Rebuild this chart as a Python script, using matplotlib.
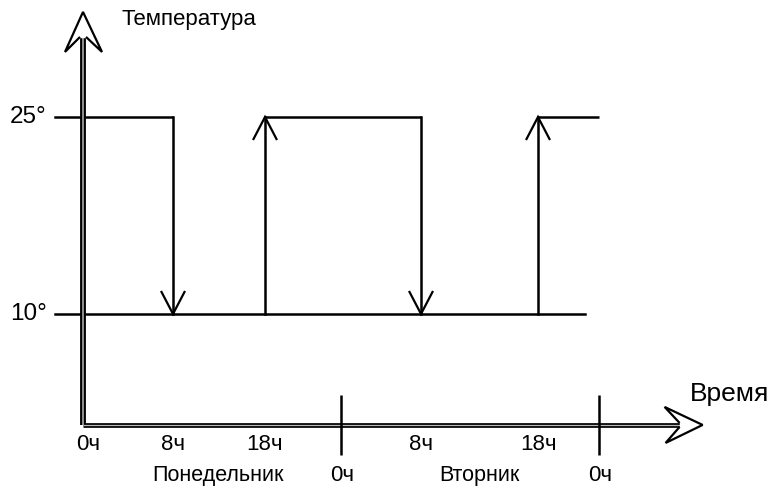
import matplotlib

matplotlib.use("Agg")
import matplotlib.pyplot as plt  # noqa: E402
import matplotlib.transforms as mtransforms  # noqa: E402
import numpy as np  # noqa: E402

# --- данные схемы: часы от начала понедельника, температура в градусах ---
T_HIGH, T_LOW = 25, 10
LEVEL_LABELS = ["25°", "10°"]
HIGH_PERIODS = [(0, 8), (18, 32), (42, 48)]   # когда держим 25°
DROPS = [8, 32]                               # переход 25° -> 10°
RISES = [18, 42]                              # переход 10° -> 25°
LOW_LINE_END = 46.6
HOUR_TICKS = [0, 8, 18, 32, 42]
HOUR_LABELS = ["0ч", "8ч", "18ч", "8ч", "18ч"]
MIDNIGHTS = [24, 48]
MIDNIGHT_LABELS = ["0ч", "0ч"]
DAY_NAMES = ["Понедельник", "Вторник"]
DAY_CENTERS = [12.9, 37.0]

# схема нарисована не в масштабе: опорные часы -> пиксели по горизонтали
SCHEME_HOURS = [-20, 0, 8, 18, 24, 32, 42, 48, 80]
SCHEME_PX = [-137, 83, 173, 265, 341, 421, 538, 599, 924]

INK = "#000000"
GAP = "#b8b8b8"
plt.rcParams["font.family"] = ["Liberation Sans", "DejaVu Sans"]


def fwd(h):
    return np.interp(h, SCHEME_HOURS, SCHEME_PX)


def inv(p):
    return np.interp(p, SCHEME_PX, SCHEME_HOURS)


fig = plt.figure(figsize=(7.71, 4.86), dpi=100)
ax = fig.add_axes([0, 0, 1, 1])
ax.set_axis_off()
ax.set_xscale("function", functions=(fwd, inv))
ax.set_xlim(inv(0), inv(771))
ax.set_ylim(-3.10, 33.91)   # ~13.13 px на градус

AXIS_T = 1.55      # где проходит ось времени
AXIS_TOP = 33.0    # острие оси температуры
AXIS_END = 58.2    # острие оси времени


def at(x, y):
    """Трансформация: пиксели (y вниз) относительно точки данных."""
    return mtransforms.Affine2D().scale(1, -1) + mtransforms.ScaledTranslation(
        x, y, ax.transData)


def shifted(dy):
    """Данные со сдвигом по вертикали в пикселях (вниз при dy > 0)."""
    return mtransforms.offset_copy(ax.transData, fig, y=-dy, units="dots")


def draw(t, pts, lw=1.6, z=6):
    ax.plot([p[0] for p in pts], [p[1] for p in pts], color=INK, lw=lw,
            transform=t, zorder=z, solid_joinstyle="miter",
            solid_capstyle="butt")


# оси — двойная линия (черная толстая + серый просвет)
ax.plot([0, 0], [AXIS_T, AXIS_TOP], color=INK, lw=4.2,
        solid_capstyle="butt", zorder=3)
ax.plot([0, AXIS_END], [AXIS_T, AXIS_T], color=INK, lw=3.4,
        solid_capstyle="butt", zorder=3)
ax.plot([0, 0], [AXIS_T, AXIS_TOP], color=GAP, lw=1.1,
        solid_capstyle="butt", zorder=4)
ax.plot([0, AXIS_END], [AXIS_T, AXIS_T], color=GAP, lw=0.9,
        solid_capstyle="butt", zorder=4)
# полые наконечники осей
t_top, t_end = at(0, AXIS_TOP), at(AXIS_END, AXIS_T)
ax.fill([-6, 6, 6, -6], [-2, -2, 25, 25], color="white", transform=t_top,
        zorder=5)
ax.fill([-23, 2, 2, -23], [-5, -5, 5, 5], color="white", transform=t_end,
        zorder=5)
draw(t_top, [(-3, 25), (-18, 40), (0, 0), (19, 40), (3, 25)])
draw(t_end, [(-23, -2), (-38, -18), (0, 0), (-37, 18), (-23, 2)])

# уровни: засечки слева от оси и линия 10°
for lvl in (T_HIGH, T_LOW):
    ax.plot([-2.55, 0], [lvl, lvl], color=INK, lw=1.8, zorder=2)
ax.plot([0, LOW_LINE_END], [T_LOW, T_LOW], color=INK, lw=1.8, zorder=2)
for a, b in HIGH_PERIODS:
    ax.plot([a, b], [T_HIGH, T_HIGH], color=INK, lw=1.8, zorder=2,
            solid_capstyle="butt")

# переходы со стрелками
for h in DROPS:
    ax.plot([h, h], [T_HIGH, T_LOW], color=INK, lw=1.8, zorder=2)
    draw(at(h, T_LOW), [(-12, -23), (0, 0), (12, -23)])
for h in RISES:
    ax.plot([h, h], [T_LOW, T_HIGH], color=INK, lw=1.8, zorder=2)
    draw(at(h, T_HIGH), [(-12, 23), (0, 0), (12, 23)])

# полночь — вертикальные засечки на оси времени
for h in MIDNIGHTS:
    draw(at(h, AXIS_T), [(0, -30), (0, 30)], lw=1.8)

# подписи
for lvl, lab in zip((T_HIGH, T_LOW), LEVEL_LABELS):
    ax.text(-3.3, lvl, lab, ha="right", va="center", fontsize=17.5)
for h, lab in zip(HOUR_TICKS, HOUR_LABELS):
    ax.text(h + (0.45 if h == 0 else 0), AXIS_T, lab, ha="center",
            va="center", fontsize=16, transform=shifted(20))
for h, lab in zip(MIDNIGHTS, MIDNIGHT_LABELS):
    ax.text(h + 0.15, AXIS_T, lab, ha="center", va="center", fontsize=16,
            transform=shifted(51))
for h, lab in zip(DAY_CENTERS, DAY_NAMES):
    ax.text(h, AXIS_T, lab, ha="center", va="baseline", fontsize=15.5,
            transform=shifted(56))
ax.text(3.45, AXIS_TOP, "Температура", ha="left", va="center", fontsize=16,
        transform=shifted(8))
ax.text(56.9, AXIS_T, "Время", ha="left", va="center", fontsize=19,
        transform=shifted(-31))

fig.savefig("out.png", dpi=100, facecolor="white")
